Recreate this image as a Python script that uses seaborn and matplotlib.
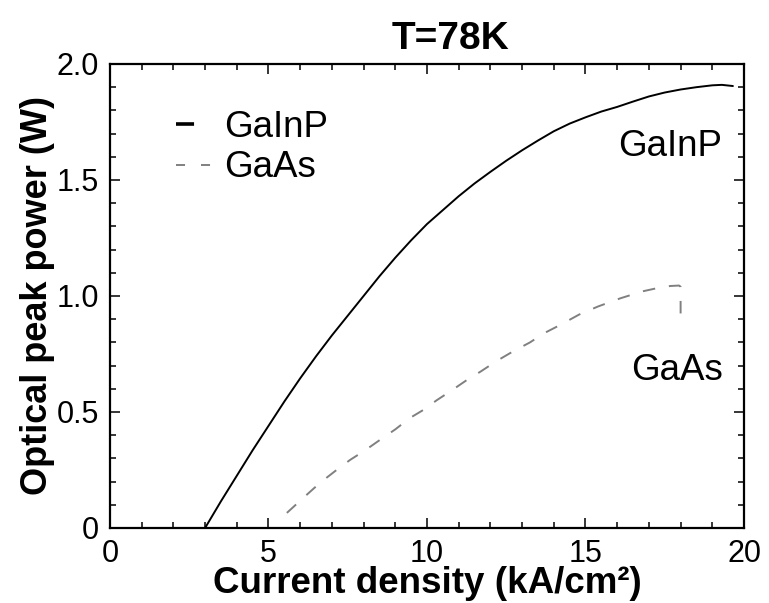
import matplotlib
matplotlib.use("Agg")
import matplotlib.pyplot as plt
from matplotlib.lines import Line2D
from matplotlib.ticker import MultipleLocator, FixedLocator, FixedFormatter
import seaborn as sns
import pandas as pd

# Optical peak power vs. current density at 78 K
gainp_j = [3.0, 3.5, 4.0, 4.5, 5.0, 5.5, 6.0, 6.5, 7.0, 7.5, 8.0, 8.5, 9.0, 9.5,
           10.0, 10.5, 11.0, 11.5, 12.0, 12.5, 13.0, 13.5, 14.0, 14.5, 15.0,
           15.5, 16.0, 16.5, 17.0, 17.5, 18.0, 18.5, 19.0, 19.3, 19.65]
gainp_p = [0.0, 0.115, 0.225, 0.335, 0.44, 0.545, 0.645, 0.74, 0.83, 0.915, 1.0,
           1.085, 1.165, 1.24, 1.31, 1.37, 1.43, 1.485, 1.535, 1.583, 1.628,
           1.67, 1.71, 1.743, 1.77, 1.795, 1.815, 1.838, 1.86, 1.877, 1.89,
           1.90, 1.908, 1.91, 1.905]

gaas_j = [5.58, 6.1, 6.62, 7.1, 7.57, 8.05, 8.52, 9.0, 9.46, 9.9, 10.3, 10.8,
          11.26, 11.7, 12.2, 12.7, 13.25, 13.7, 14.2, 14.8, 15.4, 16.1, 16.8,
          17.3, 17.67, 17.95, 18.0, 18.0]
gaas_p = [0.065, 0.13, 0.194, 0.245, 0.293, 0.335, 0.38, 0.425, 0.474, 0.51,
          0.55, 0.595, 0.638, 0.675, 0.72, 0.76, 0.80, 0.84, 0.875, 0.92, 0.955,
          0.99, 1.02, 1.035, 1.043, 1.045, 1.04, 0.91]

x_major = [0, 5, 10, 15, 20]
x_labels = ["0", "5", "10", "15", "20"]
y_major = [0, 0.5, 1.0, 1.5, 2.0]
y_labels = ["0", "0.5", "1.0", "1.5", "2.0"]

sns.set_theme(style="white")
plt.rcParams["font.family"] = ["Liberation Sans", "DejaVu Sans"]
plt.rcParams["lines.scale_dashes"] = False
plt.rcParams["text.color"] = "black"
plt.rcParams["axes.labelcolor"] = "black"
plt.rcParams["xtick.color"] = "black"
plt.rcParams["ytick.color"] = "black"

gainp = pd.DataFrame({"j": gainp_j, "p": gainp_p})
gaas = pd.DataFrame({"j": gaas_j, "p": gaas_p})

fig = plt.figure(figsize=(7.69, 6.03), dpi=100)
ax = fig.add_axes([0.143, 0.1244, 0.8245, 0.7695])

sns.lineplot(data=gainp, x="j", y="p", ax=ax, color="black", linewidth=1.4,
             estimator=None, sort=False)
sns.lineplot(data=gaas, x="j", y="p", ax=ax, color="#808080", linewidth=1.4,
             estimator=None, sort=False, linestyle=(0, (9, 10)))

ax.set_xlim(0, 20)
ax.set_ylim(0, 2.0)
ax.xaxis.set_major_locator(FixedLocator(x_major))
ax.xaxis.set_major_formatter(FixedFormatter(x_labels))
ax.yaxis.set_major_locator(FixedLocator(y_major))
ax.yaxis.set_major_formatter(FixedFormatter(y_labels))
ax.xaxis.set_minor_locator(MultipleLocator(1))
ax.yaxis.set_minor_locator(MultipleLocator(0.1))

ax.tick_params(which="both", direction="in", top=True, right=True,
               bottom=True, left=True, color="black", labelcolor="black", width=1.1)
ax.tick_params(which="major", length=7, labelsize=22, pad=8)
ax.tick_params(which="minor", length=4)
for s in ax.spines.values():
    s.set_color("black")
    s.set_linewidth(1.6)

ax.set_xlabel("Current density (kA/cm²)", fontsize=26.5, fontweight="bold",
              labelpad=-2, color="black")
ax.set_ylabel("Optical peak power (W)", fontsize=26, fontweight="bold",
              labelpad=1, color="black")
ax.set_title("T=78K", fontsize=28, fontweight="bold", pad=11, x=0.537, color="black")

ax.text(17.66, 1.645, "GaInP", fontsize=26.5, ha="center", va="center")
ax.text(17.9, 0.68, "GaAs", fontsize=26.5, ha="center", va="center")

handles = [
    Line2D([], [], color="black", linewidth=2.6, solid_capstyle="butt",
           linestyle=(0, (13, 100))),
    Line2D([], [], color="#808080", linewidth=1.4, linestyle=(0, (6.5, 11.5))),
]
ax.legend(handles, ["GaInP", "GaAs"], loc="upper left", bbox_to_anchor=(0.075, 0.9415),
          frameon=False, fontsize=26.5, handlelength=0.95, handletextpad=0.37,
          labelspacing=0.16, borderpad=0)

fig.savefig("out.png", dpi=100)
